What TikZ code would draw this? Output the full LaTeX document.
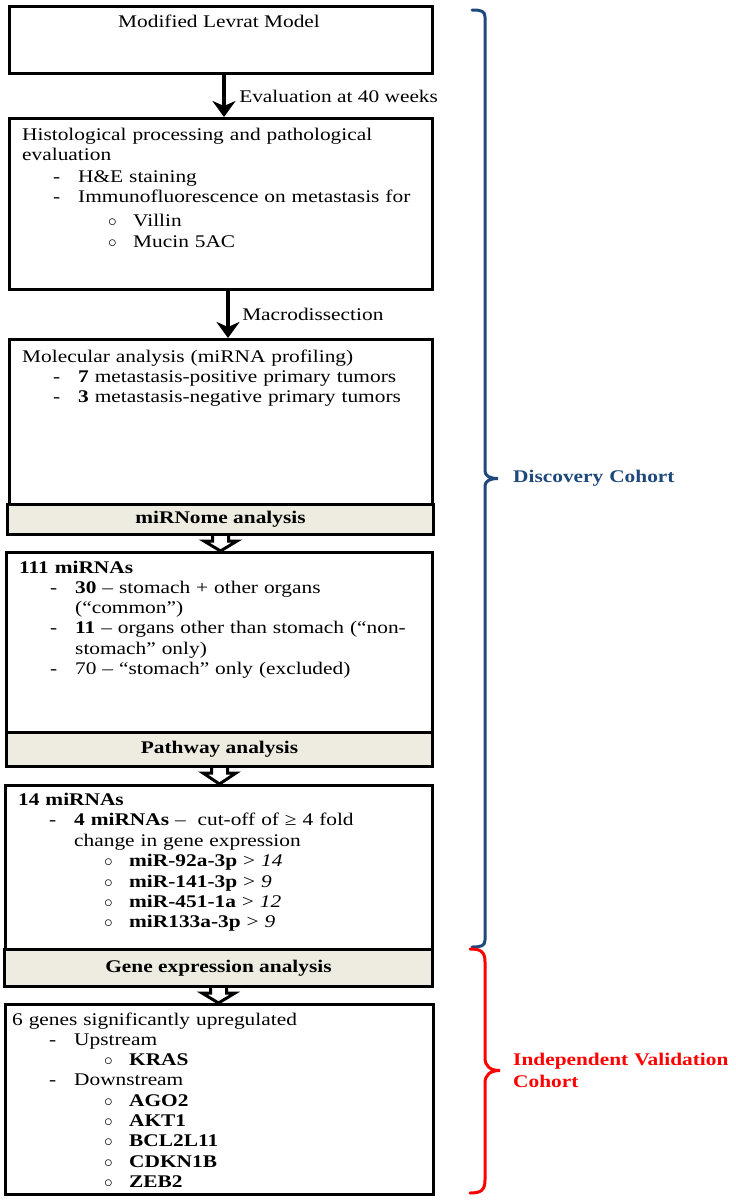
\documentclass[tikz,border=0pt]{standalone}
\usepackage{fontspec}
\setmainfont{Liberation Serif}[FakeStretch=1.2]
\usetikzlibrary{calc}
\usetikzlibrary{arrows.meta}

\definecolor{discblue}{HTML}{1F497D}
\definecolor{valred}{HTML}{FF0000}
\definecolor{bannerfill}{HTML}{EEECE1}

\newcommand{\flowfont}{\fontsize{17.8}{20.3}\selectfont}
\newcommand{\boxhead}[1]{\hspace*{14pt}#1}
\newcommand{\dashitem}[1]{\hspace*{45pt}\makebox[25pt][l]{-}#1}
\newcommand{\dashcont}[1]{\hspace*{70pt}#1}
\newcommand{\circitem}[1]{\hspace*{100pt}\makebox[25pt][l]{$\circ$}#1}
\newcommand{\blockarrow}[2]{%
  \draw[hollowarrow] ($(#1.south)+(-8,0)$) -- ++(0,5) -- ++(-8.5,0)
    -- (#1.south |- #2.north) -- ($(#1.south)+(16.5,5)$) -- ++(-8.5,0) -- ++(0,-5);
}

\begin{document}
\begin{tikzpicture}[x=1pt, y=-1pt,
    box/.style={draw=black, line width=3pt, fill=white, inner sep=0pt, anchor=north west},
    banner/.style={draw=black, line width=3pt, fill=bannerfill, inner sep=0pt, anchor=north west, font=\flowfont\bfseries},
    txt/.style={inner sep=0pt, align=left, text width=430pt, anchor=base west, font=\flowfont},
    lbl/.style={inner sep=0pt, anchor=west, xshift=13pt, font=\flowfont},
    flow/.style={line width=4.5pt, -{Stealth[length=16pt, width=23pt, inset=5pt]}},
    hollowarrow/.style={draw=black, line width=3pt, fill=white, line join=miter},
    cohort/.style={line width=3pt, line cap=round}]

    \useasboundingbox (0,0) rectangle (736,1200);

    % Boxes of the flow
    \node[box, minimum width=423pt, minimum height=67pt]  (model) at (8,5) {};
    \node[box, minimum width=423pt, minimum height=171pt] (hist) at (8,117) {};
    \node[box, minimum width=423pt, minimum height=165pt] (molec) at (8,338) {};
    \node[banner, minimum width=426pt, minimum height=30pt] (mirbar) at (6,503) {miRNome analysis};
    \node[box, minimum width=426pt, minimum height=180pt] (mirnas) at (5,551) {};
    \node[banner, minimum width=426pt, minimum height=34pt] (pathbar) at (5,731) {Pathway analysis};
    \node[box, minimum width=427pt, minimum height=164pt] (cutoff) at (4,784) {};
    \node[banner, minimum width=428pt, minimum height=37pt] (genebar) at (3,948) {Gene expression analysis};
    \node[box, minimum width=428pt, minimum height=190pt] (genes) at (4,1003) {};

    % Texts in the boxes
    \node[txt, anchor=base, text width=, align=center] (modeltxt) at (219,27) {Modified Levrat Model};
    \node[txt] (histtxt) at (8,140) {\boxhead{Histological processing and pathological}\\
        \boxhead{evaluation}\\[2pt]
        \dashitem{H\&E staining}\\
        \dashitem{Immunofluorescence on metastasis for}\\[3pt]
        \circitem{Villin}\\[1pt]
        \circitem{Mucin 5AC}};
    \node[txt] (molectxt) at (8,362) {\boxhead{Molecular analysis (miRNA profiling)}\\
        \dashitem{\textbf{7} metastasis-positive primary tumors}\\
        \dashitem{\textbf{3} metastasis-negative primary tumors}};
    \node[txt] (mirnastxt) at (5,573) {\boxhead{\textbf{111 miRNAs}}\\
        \dashitem{\textbf{30} -- stomach + other organs}\\
        \dashcont{(“common”)}\\
        \dashitem{\textbf{11} -- organs other than stomach (“non-}\\
        \dashcont{stomach” only)}\\
        \dashitem{70 -- “stomach” only (excluded)}};
    \node[txt] (cutofftxt) at (4,805) {\boxhead{\textbf{14 miRNAs}}\\
        \dashitem{\textbf{4 miRNAs} --\ \ cut-off of ≥ 4 fold}\\[1pt]
        \dashcont{change in gene expression}\\
        \circitem{\textbf{miR-92a-3p} > \textit{14}}\\
        \circitem{\textbf{miR-141-3p} > \textit{9}}\\
        \circitem{\textbf{miR-451-1a} > \textit{12}}\\
        \circitem{\textbf{miR133a-3p} > \textit{9}}};
    \node[txt] (genestxt) at (4,1025) {\hspace*{8pt}6 genes significantly upregulated\\
        \dashitem{Upstream}\\
        \circitem{\textbf{KRAS}}\\
        \dashitem{Downstream}\\
        \circitem{\textbf{AGO2}}\\
        \circitem{\textbf{AKT1}}\\
        \circitem{\textbf{BCL2L11}}\\
        \circitem{\textbf{CDKN1B}}\\
        \circitem{\textbf{ZEB2}}};

    % Arrows between the steps
    \draw[flow] ([xshift=3pt]model.south) -- node[lbl] (evallbl) {Evaluation at 40 weeks} ([xshift=3pt]hist.north);
    \draw[flow] ([xshift=7pt]hist.south) -- node[lbl, xshift=-1pt] (macrolbl) {Macrodissection} ([xshift=7pt]molec.north);
    \blockarrow{mirbar}{mirnas}
    \blockarrow{pathbar}{cutoff}
    \blockarrow{genebar}{genes}

    % Cohort braces
    \draw[cohort, discblue] (472,10) .. controls (481,10) and (485,11) .. (485,17)
        -- (485,471) .. controls (485,476) and (490,478.5) .. (498,478.5)
        .. controls (490,478.5) and (485,481) .. (485,486)
        -- (485,940) .. controls (485,946) and (481,947) .. (472,947);
    \draw[cohort, valred] (470,949) .. controls (480,949) and (485,951) .. (485,962)
        -- (485,1058) .. controls (485,1066) and (490,1070.5) .. (500,1070.5)
        .. controls (490,1070.5) and (485,1075) .. (485,1083)
        -- (485,1180) .. controls (485,1191) and (480,1193) .. (470,1193);
    \node[txt, text width=220pt, text=discblue, font=\flowfont\bfseries] (disclbl) at (513,482) {Discovery Cohort};
    \node[txt, text width=222pt, text=valred, font=\flowfont\bfseries] (vallbl) at (513,1065) {Independent Validation\\[1.7pt]Cohort};

\end{tikzpicture}
\end{document}
